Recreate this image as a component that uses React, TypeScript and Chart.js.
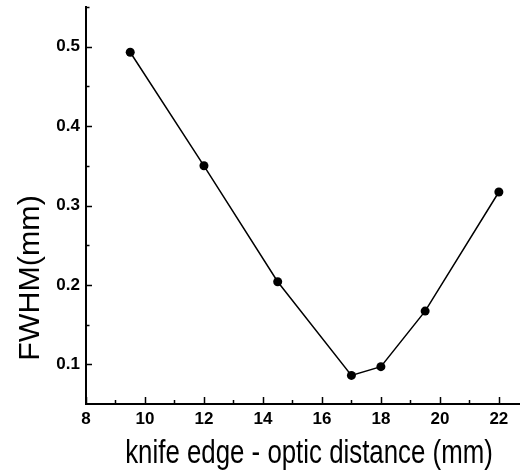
import React, { useEffect, useRef } from "react";
import { Chart, registerables } from "chart.js";

Chart.register(...registerables);

const distances = [9.5, 12, 14.5, 17, 18, 19.5, 22];
const fwhm = [0.493, 0.35, 0.204, 0.086, 0.097, 0.167, 0.317];

const xMajorTicks = [8, 10, 12, 14, 16, 18, 20, 22];
const xMinorTicks = [9, 11, 13, 15, 17, 19, 21];
const yMajorTicks = [0.1, 0.2, 0.3, 0.4, 0.5];
const yMinorTicks = [0.15, 0.25, 0.35, 0.45, 0.55];

const xTitle = "knife edge - optic distance (mm)";
const yTitle = "FWHM(mm)";

const FONT = "'Liberation Sans', Arial, Helvetica, sans-serif";

const decorPlugin = {
  id: "decor",
  afterDraw(chart: any) {
    const { ctx, chartArea, scales } = chart;
    const xs = scales.x;
    const ys = scales.y;
    ctx.save();
    ctx.strokeStyle = "#000";
    ctx.lineWidth = 1.5;
    ctx.beginPath();
    for (const v of xMajorTicks) {
      const px = Math.round(xs.getPixelForValue(v)) + 0.5;
      ctx.moveTo(px, chartArea.bottom);
      ctx.lineTo(px, chartArea.bottom - 7);
    }
    for (const v of xMinorTicks) {
      const px = Math.round(xs.getPixelForValue(v)) + 0.5;
      ctx.moveTo(px, chartArea.bottom);
      ctx.lineTo(px, chartArea.bottom - 4);
    }
    for (const v of yMajorTicks) {
      const py = Math.round(ys.getPixelForValue(v)) + 0.5;
      ctx.moveTo(chartArea.left, py);
      ctx.lineTo(chartArea.left + 6, py);
    }
    for (const v of yMinorTicks) {
      const py = Math.round(ys.getPixelForValue(v)) + 0.5;
      ctx.moveTo(chartArea.left, py);
      ctx.lineTo(chartArea.left + 3.5, py);
    }
    ctx.stroke();

    ctx.fillStyle = "#000";
    // x title
    ctx.save();
    ctx.font = `34px ${FONT}`;
    ctx.textAlign = "center";
    ctx.textBaseline = "alphabetic";
    ctx.translate(309, 463);
    ctx.scale(0.76, 1);
    ctx.fillText(xTitle, 0, 0);
    ctx.restore();
    // y title
    ctx.save();
    ctx.font = `29px ${FONT}`;
    ctx.textAlign = "center";
    ctx.textBaseline = "alphabetic";
    ctx.translate(39, 278);
    ctx.rotate(-Math.PI / 2);
    ctx.scale(1.05, 1);
    ctx.fillText(yTitle, 0, 0);
    ctx.restore();
    ctx.restore();
  },
};

export default function App() {
  const ref = useRef<HTMLCanvasElement | null>(null);
  useEffect(() => {
    document.body.style.margin = "0";
    const canvas = ref.current;
    if (!canvas) return;
    const chart = new Chart(canvas, {
      type: "line",
      data: {
        datasets: [
          {
            data: distances.map((d, i) => ({ x: d, y: fwhm[i] })),
            borderColor: "#000",
            backgroundColor: "#000",
            borderWidth: 1.5,
            pointRadius: 4.5,
            pointBorderWidth: 0,
            pointBackgroundColor: "#000",
            tension: 0,
            fill: false,
          },
        ],
      },
      options: {
        responsive: false,
        animation: false,
        devicePixelRatio: 1,
        layout: { padding: { top: 7, right: 0, left: 0, bottom: 0 } },
        plugins: {
          legend: { display: false },
          tooltip: { enabled: false },
          title: { display: false },
        },
        scales: {
          x: {
            type: "linear",
            min: 8,
            max: 22.7,
            grid: { display: false, drawTicks: false },
            border: { display: true, color: "#000", width: 2 },
            afterBuildTicks: (scale: any) => {
              scale.ticks = xMajorTicks.map((v) => ({ value: v }));
            },
            afterFit: (scale: any) => {
              scale.height = 70;
              scale.paddingLeft = 0;
              scale.paddingRight = 0;
            },
            ticks: {
              color: "#000",
              padding: 5,
              maxRotation: 0,
              autoSkip: false,
              font: { family: FONT, size: 17, weight: "bold" },
              callback: (v: any) => String(v),
            },
          },
          y: {
            type: "linear",
            min: 0.05,
            max: 0.55,
            grid: { display: false, drawTicks: false },
            border: { display: true, color: "#000", width: 2 },
            afterBuildTicks: (scale: any) => {
              scale.ticks = yMajorTicks.map((v) => ({ value: v }));
            },
            afterFit: (scale: any) => {
              scale.width = 86;
              scale.paddingTop = 0;
              scale.paddingBottom = 0;
            },
            ticks: {
              color: "#000",
              padding: 6,
              autoSkip: false,
              font: { family: FONT, size: 17, weight: "bold" },
              callback: (v: any) => Number(v).toFixed(1),
            },
          },
        },
      },
      plugins: [decorPlugin],
    });
    return () => chart.destroy();
  }, []);
  return (
    <canvas
      ref={ref}
      width={524}
      height={474}
      style={{ display: "block", width: 524, height: 474 }}
    />
  );
}
